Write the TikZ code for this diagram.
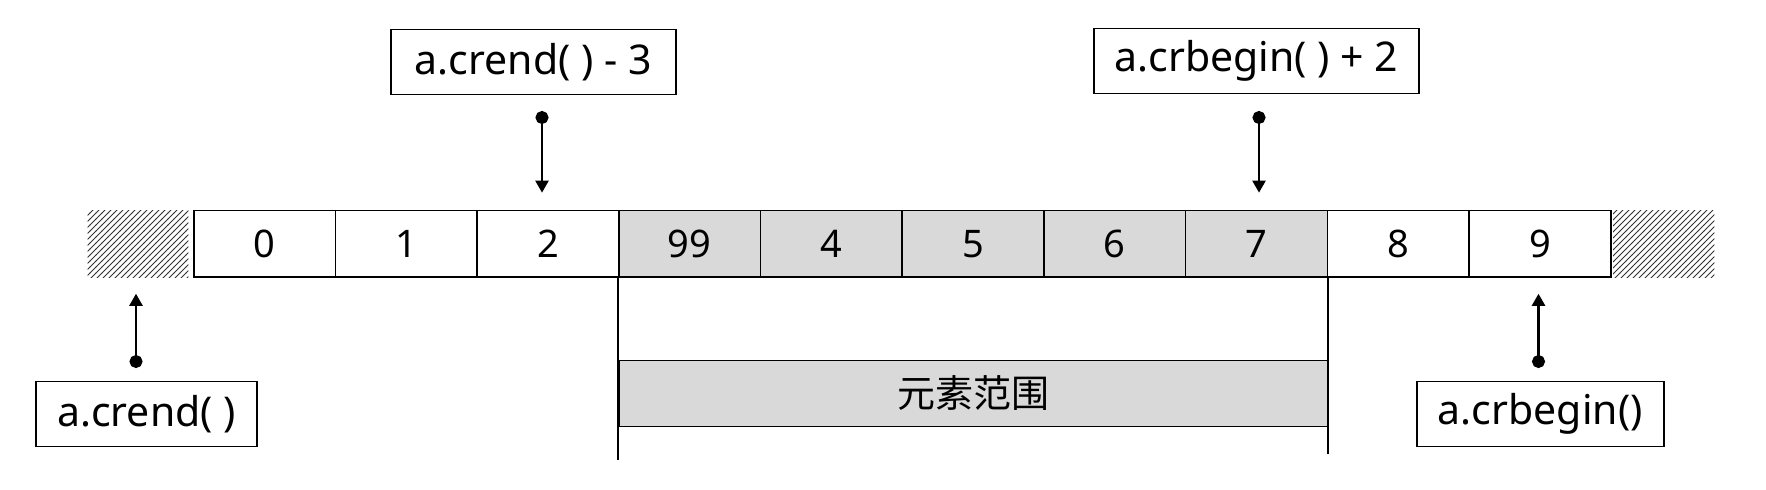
\documentclass[tikz,border=0pt]{standalone}
\usepackage{fontspec}
\setmainfont{Noto Sans}
\newfontfamily\cjkfont{Noto Sans CJK SC}
\usetikzlibrary{patterns,arrows.meta}
\definecolor{cellgray}{HTML}{D9D9D9}
\begin{document}
\begin{tikzpicture}[x=0.5pt,y=-0.5pt,
    cell/.style={draw,line width=0.8pt,minimum width=70.85pt,minimum height=33.25pt,inner sep=0pt,font=\fontsize{19}{23}\selectfont},
    lbl/.style={draw,line width=0.9pt,minimum height=32.5pt,inner sep=0pt,font=\fontsize{20.5}{24}\selectfont},
    hatch/.style={pattern=north east lines,pattern color=black!80},
    ptr/.style={line width=1.2pt,{Circle[length=6.5pt]}-{Triangle[length=6pt,width=6.5pt]}}]
    \useasboundingbox (0,0) rectangle (1766,489);

    % the ten elements
    \foreach \v [count=\i from 0] in {0,1,2,99,4,5,6,7,8,9}{
        \ifnum\i>2 \ifnum\i<8
            \node[cell,fill=cellgray] (c\i) at ({193.7+(\i+0.5)*141.7},243.7) {\v};
        \else
            \node[cell] (c\i) at ({193.7+(\i+0.5)*141.7},243.7) {\v};
        \fi\else
            \node[cell] (c\i) at ({193.7+(\i+0.5)*141.7},243.7) {\v};
        \fi
    }
    \fill[hatch] (87.7,210.5) rectangle (188.3,277);
    \fill[hatch] (1613,210.5) rectangle (1714.3,277);

    \node[lbl,minimum width=142.5pt] (t1) at (533.2,62) {a.crend( ) - 3};
    \node[lbl,minimum width=162.8pt] (t2) at (1256.4,61) {a.crbegin( ) + 2};
    \node[lbl,minimum width=110.8pt] (b1) at (146.5,414) {a.crend( )};
    \node[lbl,minimum width=123.3pt] (b2) at (1540.3,414) {a.crbegin()};

    \coordinate (p1) at (542,111);
    \coordinate (p2) at (1259,111);
    \coordinate (q1) at (136,368);
    \coordinate (q2) at (1538.5,368);
    \draw[ptr,shorten >=8.5pt] (p1) -- (p1 |- c2.north);
    \draw[ptr,shorten >=8.5pt] (p2) -- (p2 |- c7.north);
    \draw[ptr,shorten >=8pt] (q1) -- (q1 |- c0.south);
    \draw[ptr,shorten >=8pt] (q2) -- (q2 |- c9.south);

    \node[draw,line width=0.9pt,fill=cellgray,minimum width=354.2pt,minimum height=33pt,inner sep=0pt,font=\cjkfont\fontsize{19}{23}\selectfont] (rng) at (973.7,393.5) {元素范围};
    \coordinate (e1) at (619.5,460);
    \coordinate (e2) at (1327.9,454);
    \draw[line width=0.9pt] (c3.south west) -- (c3.south west |- e1);
    \draw[line width=0.9pt] (c7.south east) -- (c7.south east |- e2);
\end{tikzpicture}
\end{document}
